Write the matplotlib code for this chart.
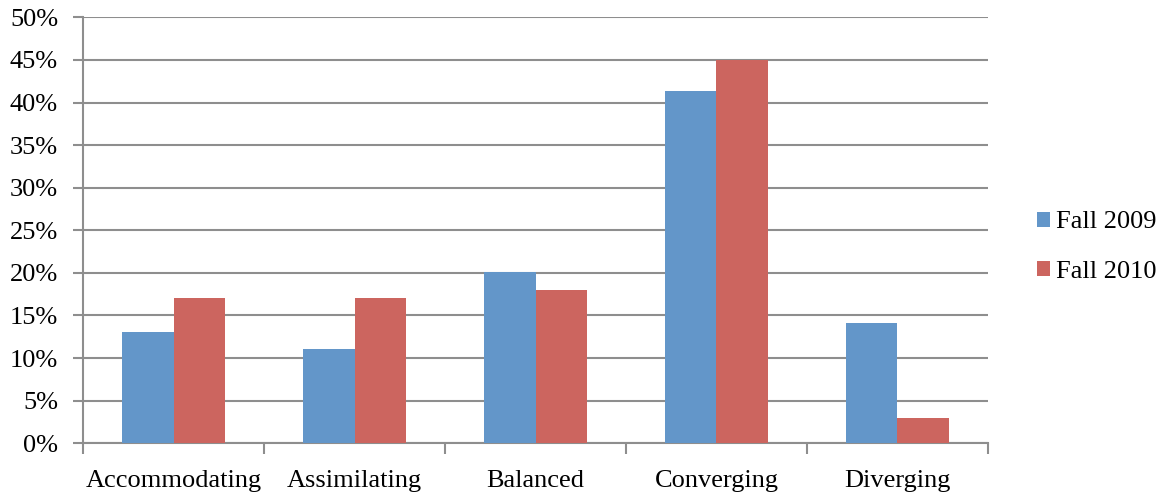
import matplotlib
matplotlib.use("Agg")
import matplotlib.pyplot as plt
import numpy as np
from matplotlib.ticker import FuncFormatter, FixedLocator

categories = ["Accommodating", "Assimilating", "Balanced", "Converging", "Diverging"]
fall_2009 = [13.1, 11.1, 20.1, 41.4, 14.1]
fall_2010 = [17, 17, 18, 45, 3]
series_names = ["Fall 2009", "Fall 2010"]
y_ticks = [0, 5, 10, 15, 20, 25, 30, 35, 40, 45, 50]

plt.rcParams["font.family"] = ["Liberation Serif", "DejaVu Serif"]

fig = plt.figure(figsize=(11.6, 4.92), dpi=100)
ax = fig.add_axes([0.0716, 0.099, 0.7801, 0.8658])

x = np.arange(len(categories))
width = 0.287
blue = "#6396C9"
red = "#CC655F"
ax.bar(x - width / 2, fall_2009, width, color=blue, label=series_names[0], zorder=3)
ax.bar(x + width / 2, fall_2010, width, color=red, label=series_names[1], zorder=3)

ax.set_xlim(-0.5, len(categories) - 0.5)
ax.set_ylim(0, 50)
ax.set_yticks(y_ticks)
ax.yaxis.set_major_formatter(FuncFormatter(lambda v, _: f"{v:.0f}%"))
ax.set_xticks(x)
ax.set_xticklabels(categories)
ax.xaxis.set_minor_locator(FixedLocator(np.arange(-0.5, len(categories), 1.0)))

grid_color = "#8E8E8E"
ax.grid(axis="y", color=grid_color, linewidth=1.5, zorder=0)
for side in ("top", "right"):
    ax.spines[side].set_visible(False)
for side in ("left", "bottom"):
    ax.spines[side].set_color(grid_color)
    ax.spines[side].set_linewidth(1.5)

ax.tick_params(axis="y", which="major", length=7, width=1.5, color=grid_color,
               labelsize=19, pad=11)
ax.tick_params(axis="x", which="major", length=0, labelsize=19, pad=19)
ax.tick_params(axis="x", which="minor", length=8, width=1.5, color=grid_color)

ax.legend(loc="center left", bbox_to_anchor=(1.028, 0.46), frameon=False,
          fontsize=19, handlelength=0.5, handleheight=0.5, handletextpad=0.2,
          labelspacing=1.05)

fig.savefig("out.png", dpi=100)
